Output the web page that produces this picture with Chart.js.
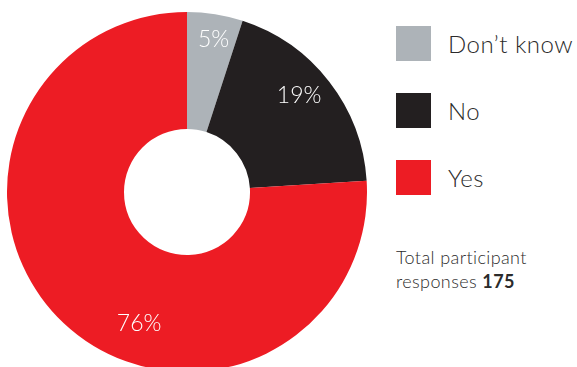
<!DOCTYPE html>
<html>
<head>
<meta charset="utf-8">
<script src="https://cdn.jsdelivr.net/npm/chart.js@4"></script>
<style>
    html, body {
        margin: 0;
        padding: 0;
        width: 577px;
        height: 367px;
        overflow: hidden;
        background: #fff;
        font-family: 'Lato', sans-serif;
    }
    .chart-box {
        position: absolute;
        left: 7px;
        top: 12px;
        width: 360px;
        height: 360px;
    }
    .legend {
        position: absolute;
        left: 396px;
        top: 26px;
    }
    .legend-item {
        display: flex;
        align-items: center;
        height: 35px;
        margin-bottom: 32px;
    }
    .legend-swatch {
        width: 35px;
        height: 35px;
        margin-right: 17px;
    }
    .legend-label {
        font-size: 24px;
        font-weight: 300;
        letter-spacing: 0.5px;
        color: #2b2b2b;
    }
    .total {
        position: absolute;
        left: 396px;
        top: 245px;
        font-size: 18px;
        font-weight: 300;
        letter-spacing: 0.4px;
        line-height: 24px;
        color: #2b2b2b;
    }
    .total b {
        font-weight: 700;
    }
</style>
</head>
<body>
<div class="chart-box"><canvas id="pollChart"></canvas></div>
<div class="legend" id="legend"></div>
<div class="total">Total participant<br>responses <b>175</b></div>

<script>
// ========================
// Data
// ========================
const answers = ['Don\u2019t know', 'No', 'Yes'];
const shares = [5, 19, 76];
const sliceColors = ['#adb3b8', '#231f20', '#ed1c24'];

// where each percentage sits inside its slice: fraction along the arc, fraction of the radius
const labelAlong = [0.55, 0.46, 0.415];
const labelRadius = [0.86, 0.82, 0.78];

// ========================
// Legend
// ========================
const legendEl = document.getElementById('legend');
answers.forEach((answer, i) => {
    const item = document.createElement('div');
    item.className = 'legend-item';
    item.innerHTML = '<div class="legend-swatch" style="background:' + sliceColors[i] + '"></div>' +
        '<span class="legend-label">' + answer + '</span>';
    legendEl.appendChild(item);
});

// ========================
// Percentage labels on the slices
// ========================
const sliceLabels = {
    id: 'sliceLabels',
    afterDatasetsDraw(chart) {
        const ctx = chart.ctx;
        const arcs = chart.getDatasetMeta(0).data;
        ctx.save();
        ctx.font = '300 23px Lato, sans-serif';
        ctx.fillStyle = '#ffffff';
        ctx.textAlign = 'center';
        ctx.textBaseline = 'middle';
        arcs.forEach((arc, i) => {
            const angle = arc.startAngle + (arc.endAngle - arc.startAngle) * labelAlong[i];
            const r = arc.outerRadius * labelRadius[i];
            const x = arc.x + Math.cos(angle) * r;
            const y = arc.y + Math.sin(angle) * r;
            ctx.fillText(shares[i] + '%', x, y);
        });
        ctx.restore();
    }
};

new Chart(document.getElementById('pollChart'), {
    type: 'doughnut',
    data: {
        labels: answers,
        datasets: [{
            data: shares,
            backgroundColor: sliceColors,
            borderWidth: 0
        }]
    },
    options: {
        responsive: true,
        maintainAspectRatio: false,
        animation: false,
        cutout: '35%',
        rotation: 0,
        plugins: {
            legend: { display: false },
            tooltip: { enabled: false }
        }
    },
    plugins: [sliceLabels]
});
</script>
</body>
</html>
